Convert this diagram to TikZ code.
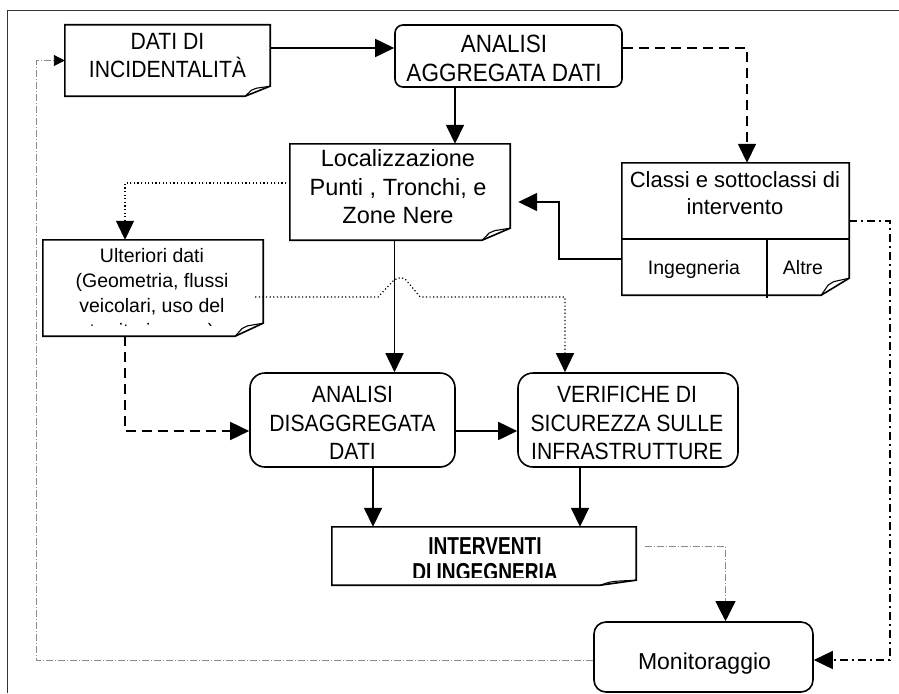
\documentclass[tikz,border=0pt]{standalone}
\usepackage{fontspec}
\setmainfont{Liberation Sans}
\newfontfamily\capsfont[FakeStretch=0.9]{Liberation Sans}
\newfontfamily\boldnarrow[FakeStretch=0.78]{Liberation Sans}
\usetikzlibrary{arrows.meta,calc}
\newcommand\foldbox[3]{%
 \draw[boxline] (#1.north west) -- (#1.north east) -- ([yshift=#3pt]#1.south east) -- ([xshift=-#2pt]#1.south east) -- (#1.south west) -- cycle;
 \draw[foldline] ([xshift=-#2pt]#1.south east) -- ++({0.25*#2},{-0.6*#3}) -- ++({0.2*#2},{-0.2*#3}) -- ([yshift=#3pt]#1.south east);
}
\tikzset{
 boxline/.style={line width=1.6pt, line join=miter},
 foldline/.style={line width=1.1pt, line join=round},
 shapebox/.style={inner sep=0pt, draw=none},
 roundbox/.style={inner sep=0pt, draw, line width=1.6pt, rounded corners=#1},
 txt/.style={inner sep=0pt, align=center},
 conn/.style={line width=1.6pt, -{Triangle[length=19pt,width=18pt]}},
 conndash/.style={line width=1.6pt, dash pattern=on 10pt off 6pt, -{Triangle[length=19pt,width=18pt]}},
 conndot/.style={line width=1.2pt, dash pattern=on 1.2pt off 2.4pt, -{Triangle[length=19pt,width=18pt]}},
 conndashdot/.style={line width=1.6pt, dash pattern=on 8pt off 4pt on 2pt off 4pt, -{Triangle[length=19pt,width=18pt]}},
 conngray/.style={line width=0.9pt, draw=black!45, dash pattern=on 7pt off 2pt on 1pt off 2pt},
 capsbig/.style={font=\capsfont\fontsize{23.5}{28.5}\selectfont},
}
\begin{document}
\begin{tikzpicture}[x=1pt,y=-1pt]
\useasboundingbox (0,0) rectangle (899,693);
% outer frame
\draw[line width=0.8pt, black!80] (7,693) -- (7,10) -- (899,10);

% box shapes
\node[shapebox, minimum width=205pt, minimum height=71pt] (dati) at (167.5,60.5) {};
\node[roundbox=8pt, minimum width=227pt, minimum height=62pt] (an1) at (508.5,56) {};
\node[shapebox, minimum width=220pt, minimum height=96pt] (loc) at (400,192) {};
\node[shapebox, minimum width=227pt, minimum height=132pt] (classi) at (735.5,229) {};
\node[shapebox, minimum width=220pt, minimum height=96pt] (ult) at (153,288) {};
\node[roundbox=15pt, minimum width=205pt, minimum height=94pt] (dis) at (352.5,420) {};
\node[roundbox=15pt, minimum width=220pt, minimum height=94pt] (ver) at (628,420) {};
\node[shapebox, minimum width=304pt, minimum height=58pt] (int) at (484,556) {};
\node[roundbox=12pt, minimum width=219pt, minimum height=70pt] (mon) at (703.5,657) {};

\foldbox{dati}{25}{10}
\foldbox{loc}{28}{12}
\foldbox{classi}{28}{17}
\foldbox{ult}{28}{13}
\foldbox{int}{36}{5}
\draw[boxline] ([yshift=-10pt]classi.west) -- ([yshift=-10pt]classi.east);
\draw[line width=1.2pt] ([xshift=31.5pt,yshift=-10pt]classi.center) -- ([xshift=31.5pt,yshift=-3pt]classi.south);

% texts
\node[txt, capsbig] (dati-t) at (167.5,55.6) {DATI DI\\INCIDENTALITÀ};
\node[txt, font=\capsfont\fontsize{25}{29}\selectfont] (an1-t) at (504,58.5) {ANALISI\\AGGREGATA DATI};
\node[txt, font=\fontsize{23.5}{28.5}\selectfont] (loc-t) at (398,187) {Localizzazione\\Punti , Tronchi, e\\Zone Nere};
\node[txt, font=\fontsize{22}{27}\selectfont] (classi-t) at (735,193) {Classi e sottoclassi di\\intervento};
\node[txt, anchor=base, font=\fontsize{19.5}{24}\selectfont] (ing-t) at (694,274) {Ingegneria};
\node[txt, anchor=base, font=\fontsize{19.5}{24}\selectfont] (altre-t) at (803,274) {Altre};
\begin{scope}
\clip (ult.north west) rectangle ([yshift=11pt]ult.south east);
\node[txt, anchor=north, font=\fontsize{19.5}{25}\selectfont] (ult-t) at (152,247.7) {Ulteriori dati\\(Geometria, flussi\\veicolari, uso del\\territorio, ecc.)};
\end{scope}
\node[txt, capsbig] (dis-t) at (352.5,423) {ANALISI\\DISAGGREGATA\\DATI};
\node[txt, capsbig] (ver-t) at (627,423) {VERIFICHE DI\\SICUREZZA SULLE\\INFRASTRUTTURE};
\begin{scope}
\clip (int.north west) rectangle ([yshift=7.5pt]int.south east);
\node[txt, font=\boldnarrow\bfseries\fontsize{24.5}{26}\selectfont] (int-t) at (485,559.2) {INTERVENTI\\DI INGEGNERIA};
\end{scope}
\node[txt, anchor=base, font=\fontsize{23}{28}\selectfont] (mon-t) at (704.5,669) {Monitoraggio};

% connectors
\draw[conn] ([yshift=12.5pt]dati.east) -- ([yshift=12.5pt]dati.east -| an1.west);
\draw[conn] ([xshift=-53.5pt]an1.south) -- ([xshift=-53.5pt]an1.south |- loc.north);
\draw[conndash] ([yshift=8pt]an1.east) -| ([xshift=11.5pt]classi.north);
\draw[conn] ([yshift=-30pt]classi.west) -- ++(-63,0) |- ([xshift=8pt,yshift=-10pt]loc.east);
\draw[conndashdot] ([yshift=8pt]classi.east) -- ++(41,0) |- ([yshift=-3pt]mon.east);
\draw[conndot] ([yshift=9pt]loc.west) -| ([xshift=-28pt]ult.north);
\draw[conndot] ([xshift=-8pt,yshift=-9pt]ult.east) -- ++(123,0) -- ++(12,-13)
   .. controls +(5,-6) and +(-5,-3) .. ++(15,-5) -- ++(15,18) -| ([xshift=-63pt]ver.north);
\draw[conn] ([xshift=-5.5pt]loc.south) -- ([xshift=-5.5pt]loc.south |- dis.north);
\draw[conndash] ([xshift=-28pt]ult.south) |- ([yshift=-11pt]dis.west);
\draw[conn] ([yshift=-11pt]dis.east) -- ([yshift=-11pt]dis.east -| ver.west);
\draw[conn] ([xshift=20.5pt]dis.south) -- ([xshift=20.5pt]dis.south |- int.north);
\draw[conn] ([xshift=-48pt]ver.south) -- ([xshift=-48pt]ver.south |- int.north);
\draw[conngray, -{Triangle[length=20pt,width=20pt,color=black]}] ([xshift=9pt,yshift=10pt]int.east) -| ([xshift=22pt]mon.north);
\draw[conngray, -{Triangle[length=11pt,width=11pt,color=black]}] ([yshift=-3pt]mon.west) -- ++(-557,0) |- (dati.west);
\end{tikzpicture}
\end{document}
